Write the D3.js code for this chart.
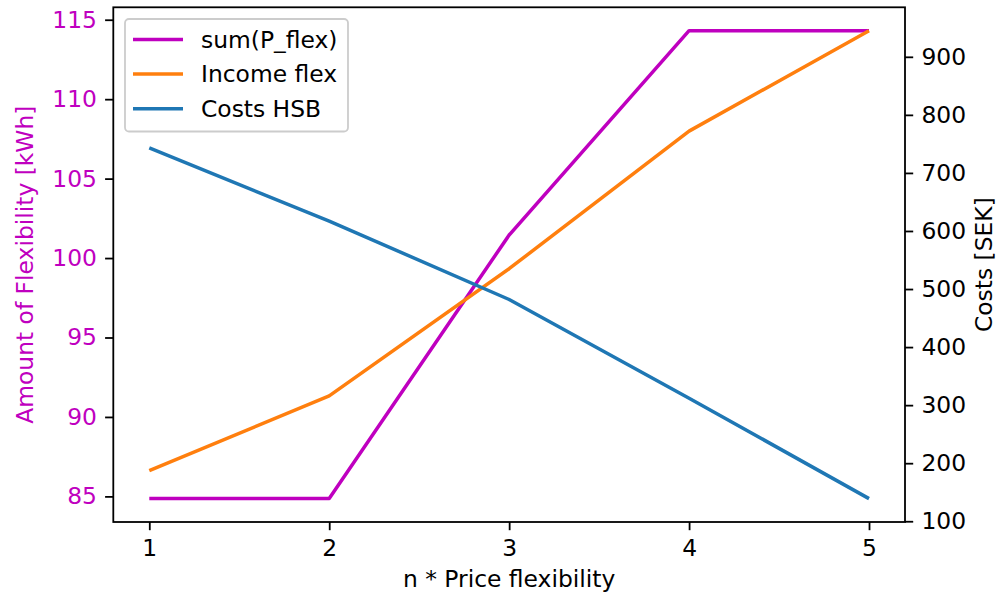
<!DOCTYPE html>
<html>
<head>
<meta charset="utf-8">
<script src="https://cdn.jsdelivr.net/npm/d3@7"></script>
<style>
  html, body { margin: 0; padding: 0; background: #fff; }
  svg { display: block; font-family: "DejaVu Sans", sans-serif; }
</style>
</head>
<body>
<svg id="chart" width="998" height="595"></svg>
<script>
// Price-flexibility multiplier on the x axis
const multipliers = [1, 2, 3, 4, 5];
// Amount of flexibility (kWh), left axis
const sumPFlex = [84.86, 84.86, 101.45, 114.31, 114.31];
// Income and costs (SEK), right axis
const incomeFlex = [187, 316, 535, 772, 945];
const costsHSB = [743, 617, 482, 312, 139];

const xTicks = [1, 2, 3, 4, 5];
const leftTicks = [85, 90, 95, 100, 105, 110, 115];
const rightTicks = [100, 200, 300, 400, 500, 600, 700, 800, 900];

const magenta = "#bf00bf", orange = "#ff7f0e", blue = "#1f77b4";
const fs = 23.4, lw = 3.5, tickLen = 8.2, pad = 8.2;

const svg = d3.select("#chart");
const L = 113.3, R = 905, T = 7.3, B = 522;

// 5% margins around the data range
function padded(vals) {
  const lo = d3.min(vals), hi = d3.max(vals), m = (hi - lo) * 0.05;
  return [lo - m, hi + m];
}
const x = d3.scaleLinear().domain(padded(multipliers)).range([L, R]);
const yL = d3.scaleLinear().domain(padded(sumPFlex)).range([B, T]);
const yR = d3.scaleLinear().domain(padded(incomeFlex.concat(costsHSB))).range([B, T]);

function styleAxis(g, color) {
  g.select(".domain").remove();
  g.selectAll(".tick line").attr("stroke", "#000").attr("stroke-width", 1.8);
  g.selectAll(".tick text").attr("font-size", fs).attr("fill", color)
    .attr("font-family", "DejaVu Sans, sans-serif");
}

// Axes
const gx = svg.append("g").attr("transform", `translate(0,${B})`)
  .call(d3.axisBottom(x).tickValues(xTicks).tickFormat(d3.format("d"))
    .tickSize(tickLen).tickPadding(pad));
styleAxis(gx, "#000");
gx.selectAll(".tick text").attr("dy", "0.74em");

const gl = svg.append("g").attr("transform", `translate(${L},0)`)
  .call(d3.axisLeft(yL).tickValues(leftTicks).tickFormat(d3.format("d"))
    .tickSize(tickLen).tickPadding(pad));
styleAxis(gl, magenta);

const gr = svg.append("g").attr("transform", `translate(${R},0)`)
  .call(d3.axisRight(yR).tickValues(rightTicks).tickFormat(d3.format("d"))
    .tickSize(tickLen).tickPadding(pad));
styleAxis(gr, "#000");

// Lines
const line = (ys, scale) => d3.line().x((d, i) => x(multipliers[i])).y(d => scale(d))(ys);
const plotG = svg.append("g");
plotG.append("path").attr("d", line(sumPFlex, yL)).attr("fill", "none")
  .attr("stroke", magenta).attr("stroke-width", lw).attr("stroke-linejoin", "round");
plotG.append("path").attr("d", line(incomeFlex, yR)).attr("fill", "none")
  .attr("stroke", orange).attr("stroke-width", lw).attr("stroke-linejoin", "round");
plotG.append("path").attr("d", line(costsHSB, yR)).attr("fill", "none")
  .attr("stroke", blue).attr("stroke-width", lw).attr("stroke-linejoin", "round");

// Frame
svg.append("rect").attr("x", L).attr("y", T).attr("width", R - L).attr("height", B - T)
  .attr("fill", "none").attr("stroke", "#000").attr("stroke-width", 1.8);

// Axis titles
svg.append("text").attr("x", (L + R) / 2).attr("y", 587).attr("text-anchor", "middle")
  .attr("font-size", fs).attr("fill", "#000").text("n * Price flexibility");
svg.append("text").attr("transform", `translate(32.5,${(T + B) / 2}) rotate(-90)`)
  .attr("text-anchor", "middle").attr("font-size", fs).attr("fill", magenta)
  .text("Amount of Flexibility [kWh]");
svg.append("text").attr("transform", `translate(992,${(T + B) / 2}) rotate(-90)`)
  .attr("text-anchor", "middle").attr("font-size", fs).attr("fill", "#000")
  .text("Costs [SEK]");

// Legend
const legendItems = [
  { label: "sum(P_flex)", color: magenta },
  { label: "Income flex", color: orange },
  { label: "Costs HSB", color: blue }
];
const lg = svg.append("g");
lg.append("rect").attr("x", 125).attr("y", 19).attr("width", 223).attr("height", 112.5)
  .attr("rx", 4).attr("fill", "#fff").attr("fill-opacity", 0.8)
  .attr("stroke", "#ccc").attr("stroke-width", 1.8);
legendItems.forEach((d, i) => {
  const cy = 39.5 + i * 34.6;
  lg.append("line").attr("x1", 133).attr("x2", 183).attr("y1", cy).attr("y2", cy)
    .attr("stroke", d.color).attr("stroke-width", lw);
  lg.append("text").attr("x", 201).attr("y", cy).attr("dy", "0.35em")
    .attr("font-size", fs).attr("fill", "#000").text(d.label);
});
</script>
</body>
</html>
